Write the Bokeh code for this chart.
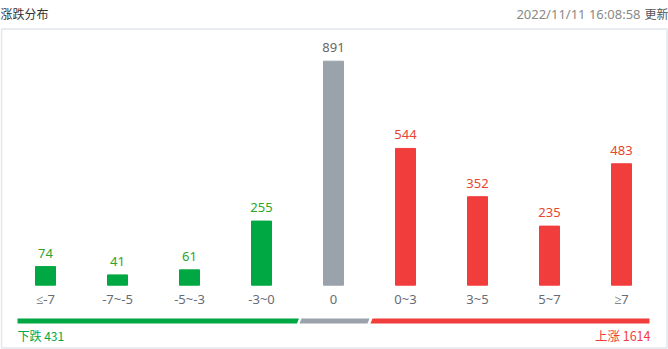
from bokeh.plotting import figure
from bokeh.models import Range1d, ColumnDataSource
from bokeh.core.properties import value
from bokeh.embed import file_html
from bokeh.resources import INLINE

categories = ["≤-7", "-7~-5", "-5~-3", "-3~0", "0", "0~3", "3~5", "5~7", "≥7"]
counts = [74, 41, 61, 255, 891, 544, 352, 235, 483]
groups = ["down", "down", "down", "down", "flat", "up", "up", "up", "up"]
title_text = "涨跌分布"
time_text = "2022/11/11 16:08:58"
update_text = "更新"
down_label = "下跌"
up_label = "上涨"

GREEN = "#00a843"
RED = "#f23d3d"
GRAY = "#9aa2ac"
color_map = {"down": GREEN, "flat": GRAY, "up": RED}
text_color_map = {"down": "#2aa52a", "flat": "#666666", "up": "#e8452e"}

down_total = sum(c for c, g in zip(counts, groups) if g == "down")
up_total = sum(c for c, g in zip(counts, groups) if g == "up")

W, H = 668, 349
step = 72.0
x0 = 45.0
base = 284.7
ppu = 224.0 / 891.0

xs = list(range(len(categories)))
p = figure(width=W, height=H, output_backend="svg", toolbar_location=None,
           x_range=Range1d(-x0 / step, (W - x0) / step),
           y_range=Range1d(-(H - base) / ppu, base / ppu),
           min_border=0, outline_line_color=None)
p.axis.visible = False
p.grid.visible = False
p.background_fill_color = "white"
p.border_fill_color = "white"

p.extra_x_ranges["px"] = Range1d(0, W)
p.extra_y_ranges["px"] = Range1d(H, 0)

# panel border
p.quad(left=[1], right=[666.5], top=[28.5], bottom=[347.5], fill_color=None,
       line_color="#e2e7ee", line_width=1.5, x_range_name="px", y_range_name="px")

src = ColumnDataSource(dict(
    x=xs, top=counts, cat=categories,
    color=[color_map[g] for g in groups],
    tcolor=[text_color_map[g] for g in groups],
    lbl=[str(c) for c in counts],
))
p.vbar(x="x", top="top", bottom=0, width=20 / step, color="color", source=src)
p.text(x="x", y="top", text="lbl", text_color="tcolor", source=src,
       text_align="center", text_baseline="bottom", y_offset=-9,
       text_font=value("Noto Sans"), text_font_size="13px")
p.text(x="x", y=0, text="cat", source=src, text_color="#666c75",
       text_align="center", text_baseline="middle", y_offset=14,
       text_font=value("Noto Sans"), text_font_size="13px")

# header
p.text(x=[0], y=[13], text=[title_text], text_color="#333333", text_align="left",
       text_baseline="middle", text_font=value("Noto Sans CJK SC"), text_font_size="12px",
       x_range_name="px", y_range_name="px")
p.text(x=[640], y=[13], text=[time_text], text_color="#888888", text_align="right",
       text_baseline="middle", text_font=value("Noto Sans"), text_font_size="13px",
       x_range_name="px", y_range_name="px")
p.text(x=[668], y=[13], text=[update_text], text_color="#555555", text_align="right",
       text_baseline="middle", text_font=value("Noto Sans CJK SC"), text_font_size="12px",
       x_range_name="px", y_range_name="px")

# summary strip
gx = [[17, 298.5, 296.5, 17], [301, 369, 367, 299], [372, 649, 649, 370]]
gy = [[318, 318, 323, 323]] * 3
p.patches(xs=gx, ys=gy, color=[GREEN, GRAY, RED], line_color=None,
          x_range_name="px", y_range_name="px")

p.text(x=[17], y=[335], text=[f"{down_label} {down_total}"], text_color=GREEN,
       text_align="left", text_baseline="middle", text_font=value("Noto Sans CJK SC"),
       text_font_size="12px", x_range_name="px", y_range_name="px")
p.text(x=[650], y=[335], text=[f"{up_label} {up_total}"], text_color=RED,
       text_align="right", text_baseline="middle", text_font=value("Noto Sans CJK SC"),
       text_font_size="12.5px", x_range_name="px", y_range_name="px")

open("out.html", "w").write(file_html(p, INLINE))
